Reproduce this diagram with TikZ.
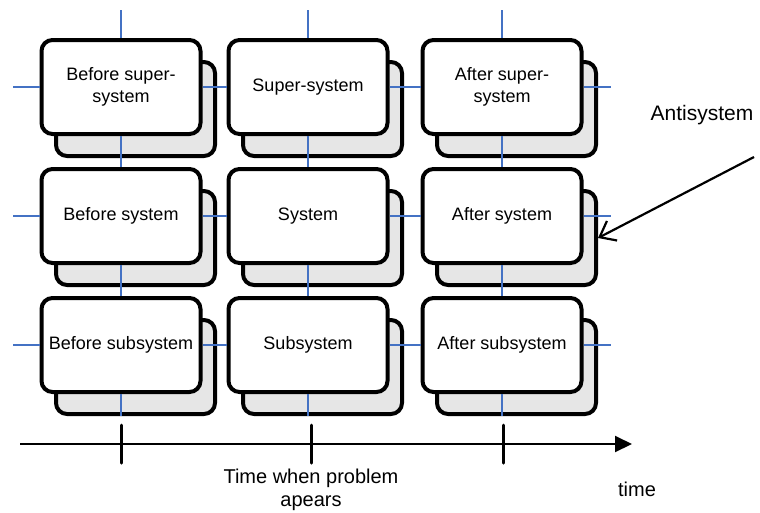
\documentclass[tikz,border=0pt]{standalone}
\usepackage{fontspec}
\setmainfont{Liberation Sans}
\usetikzlibrary{arrows.meta}
\definecolor{linkblue}{HTML}{4472C4}
\definecolor{backgray}{HTML}{E6E6E6}

\begin{document}
\begin{tikzpicture}[x=1pt,y=-1pt,
  cell/.style={draw=black,line width=4pt,rounded corners=11pt,fill=white,
    minimum width=159pt,minimum height=94pt,inner sep=2pt,align=center,
    font=\fontsize{18}{22}\selectfont},
  back/.style={cell,fill=backgray},
  link/.style={draw=linkblue,line width=2pt},
  tick/.style={line width=3pt,line cap=round},
  lbl/.style={align=center,font=\fontsize{20}{23.5}\selectfont}]
\useasboundingbox (0,0) rectangle (760,512);
% copies behind the cells
\node[back] (bsupb) at (135.5,109) {};
\node[back] (supb) at (322.5,109) {};
\node[back] (asupb) at (516.5,109) {};
\node[back] (bsysb) at (135.5,238) {};
\node[back] (sysb) at (322.5,238) {};
\node[back] (asysb) at (516.5,238) {};
\node[back] (bsubb) at (135.5,367) {};
\node[back] (subb) at (322.5,367) {};
\node[back] (asubb) at (516.5,367) {};
% the nine cells
\node[cell] (bsup) at (121,87) {Before super-\\system};
\node[cell] (sup) at (308,87) {Super-system};
\node[cell] (asup) at (502,87) {After super-\\system};
\node[cell] (bsys) at (121,216) {Before system};
\node[cell] (sys) at (308,216) {System};
\node[cell] (asys) at (502,216) {After system};
\node[cell] (bsub) at (121,345) {Before subsystem};
\node[cell] (sub) at (308,345) {Subsystem};
\node[cell] (asub) at (502,345) {After subsystem};
% free ends of the blue links
\coordinate (l1) at (13,87);
\coordinate (l2) at (13,216);
\coordinate (l3) at (13,345);
\coordinate (r1) at (611,87);
\coordinate (r2) at (611,216);
\coordinate (r3) at (611,345);
\coordinate (t1) at (121,10);
\coordinate (t2) at (308,10);
\coordinate (t3) at (502,10);
\coordinate (d1) at (121,416);
\coordinate (d2) at (308,416);
\coordinate (d3) at (502,416);
% blue links, rows
\draw[link] (l1) -- (bsup);
\draw[link] (bsup) -- (sup);
\draw[link] (sup) -- (asup);
\draw[link] (asup) -- (r1);
\draw[link] (l2) -- (bsys);
\draw[link] (bsys) -- (sys);
\draw[link] (sys) -- (asys);
\draw[link] (asys) -- (r2);
\draw[link] (l3) -- (bsub);
\draw[link] (bsub) -- (sub);
\draw[link] (sub) -- (asub);
\draw[link] (asub) -- (r3);
% blue links, columns
\draw[link] (t1) -- (bsup);
\draw[link] (bsup) -- (bsys);
\draw[link] (bsys) -- (bsub);
\draw[link] (bsub) -- (d1);
\draw[link] (t2) -- (sup);
\draw[link] (sup) -- (sys);
\draw[link] (sys) -- (sub);
\draw[link] (sub) -- (d2);
\draw[link] (t3) -- (asup);
\draw[link] (asup) -- (asys);
\draw[link] (asys) -- (asub);
\draw[link] (asub) -- (d3);
% time axis
\coordinate (ax0) at (20,444);
\coordinate (ax1) at (632,444);
\draw[line width=2pt,-{Triangle[length=17pt,width=16pt]}] (ax0) -- (ax1);
\coordinate (k1a) at (121,425);
\coordinate (k1b) at (121,463);
\coordinate (k2a) at (311,425);
\coordinate (k2b) at (311,463);
\coordinate (k3a) at (503,425);
\coordinate (k3b) at (503,463);
\draw[tick] (k1a) -- (k1b);
\draw[tick] (k2a) -- (k2b);
\draw[tick] (k3a) -- (k3b);
\node[lbl] (when) at (311,490) {Time when problem\\apears};
\node[lbl] (time) at (637,489) {time};
% antisystem
\node[font=\fontsize{21}{25}\selectfont] (anti) at (702,115) {Antisystem};
\coordinate (anti0) at (754,157);
\draw[line width=2.2pt,-{Straight Barb[length=14pt,width=22pt]}] (anti0) -- (asysb.east);
\end{tikzpicture}
\end{document}
